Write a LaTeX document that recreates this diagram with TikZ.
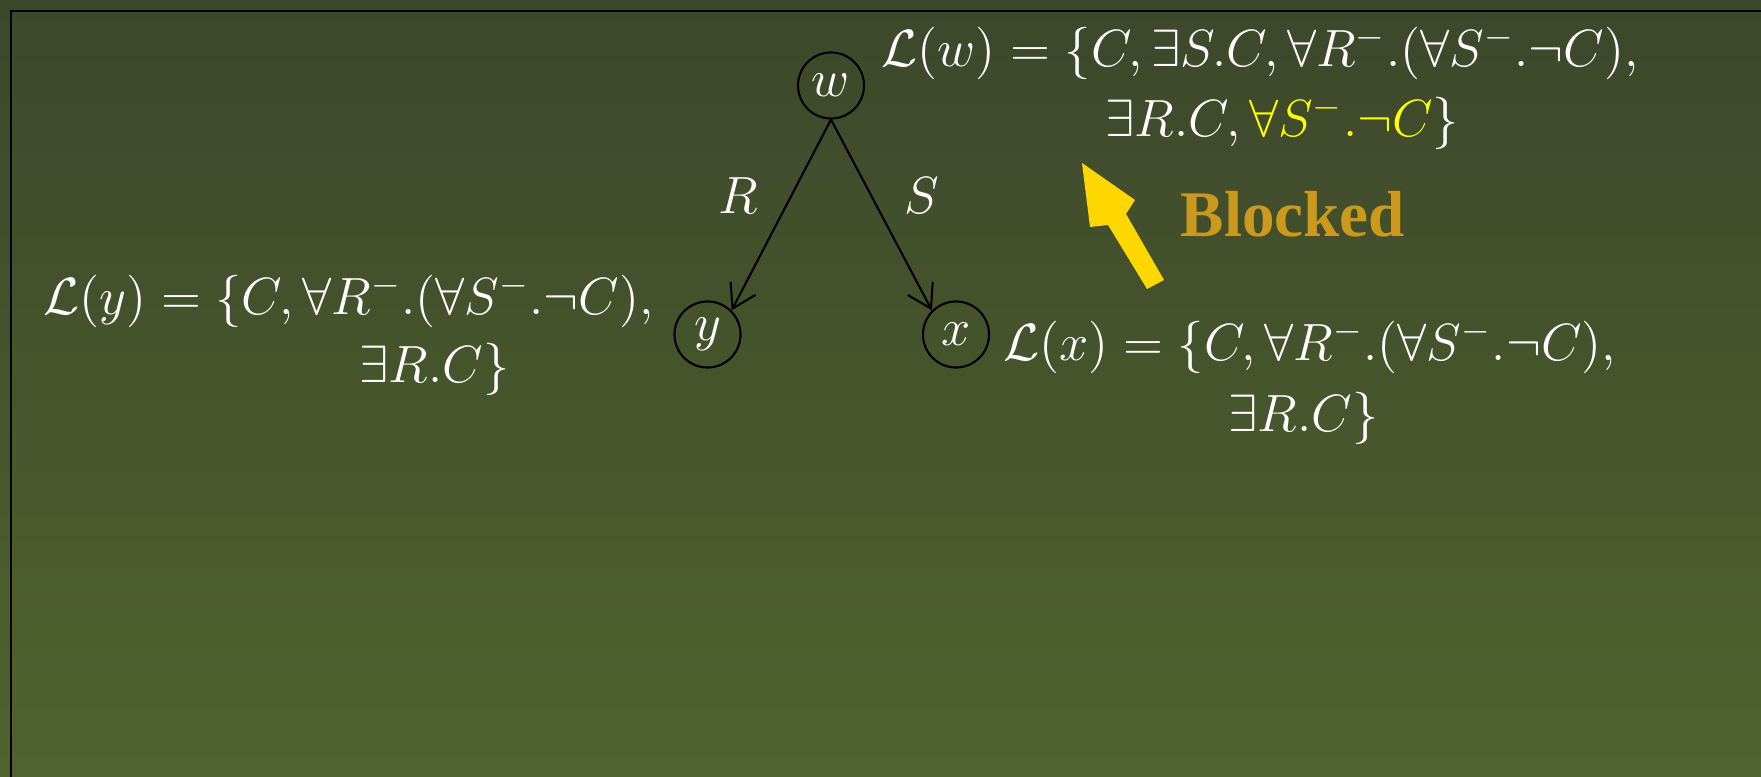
\RequirePackage{fix-cm}
\documentclass[tikz,border=0pt]{standalone}
\usepackage{fontspec}
\newfontfamily\blockfont{Liberation Serif}
\usetikzlibrary{arrows.meta}
\definecolor{bgtop}{RGB}{61,71,43}
\definecolor{bgbot}{RGB}{80,99,46}
\definecolor{blockgold}{RGB}{203,154,29}
\definecolor{arrowgold}{RGB}{255,215,0}
\definecolor{hlyellow}{RGB}{255,255,0}
\tikzset{
  state/.style={circle, draw=black, line width=0.6pt, minimum size=0.66cm, inner sep=0pt, text=white, font=\fontsize{14.9}{18}\selectfont},
  lbl/.style={text=white, inner sep=0pt, anchor=base west, font=\fontsize{14.9}{18}\selectfont},
  edgelbl/.style={text=white, font=\fontsize{14.9}{18}\selectfont},
  edge/.style={draw=black, line width=0.6pt, -{Straight Barb[length=6.5pt,width=8pt]}},
}
\begin{document}
\begin{tikzpicture}[x=0.01cm,y=-0.01cm]
\shade[top color=bgtop, bottom color=bgbot] (0,0) rectangle (1761,777);
\useasboundingbox (0,0) rectangle (1761,777);
\draw[line width=0.02cm, black] (11,777) -- (11,11) -- (1761,11);

\node[state] (w) at (831,85.5) {$w$};
\node[state] (y) at (707.5,334.5) {$y$};
\node[state] (x) at (956,334.5) {$x$};

\draw[edge] (w.south) -- (y.north east);
\draw[edge] (w.south) -- (x.north west);
\node[edgelbl] (lR) at (738,196) {$R$};
\node[edgelbl] (lS) at (922,196) {$S$};

\node[lbl] (lw1) at (881,67) {$\mathcal{L}(w)=\{C,\exists S.C,\forall R^{-}.(\forall S^{-}.\neg C),$};
\node[lbl] (lw2) at (1105,137) {$\exists R.C,\textcolor{hlyellow}{\forall S^{-}.\neg C}\}$};

\node[lbl] (ly1) at (43,315) {$\mathcal{L}(y)=\{C,\forall R^{-}.(\forall S^{-}.\neg C),$};
\node[lbl] (ly2) at (359,383) {$\exists R.C\}$};

\node[lbl] (lx1) at (1003,361) {$\mathcal{L}(x)=\{C,\forall R^{-}.(\forall S^{-}.\neg C),$};
\node[lbl] (lx2) at (1228,432) {$\exists R.C\}$};

\fill[arrowgold] (1082,163) -- (1135,200) -- (1126,214) -- (1164,280) -- (1147,289) -- (1108,225) -- (1090,227) -- cycle;
\node[anchor=base west, inner sep=0pt, text=blockgold, font=\blockfont\bfseries\fontsize{18.5}{22}\selectfont] (blocked) at (1180,237) {Blocked};
\end{tikzpicture}
\end{document}
